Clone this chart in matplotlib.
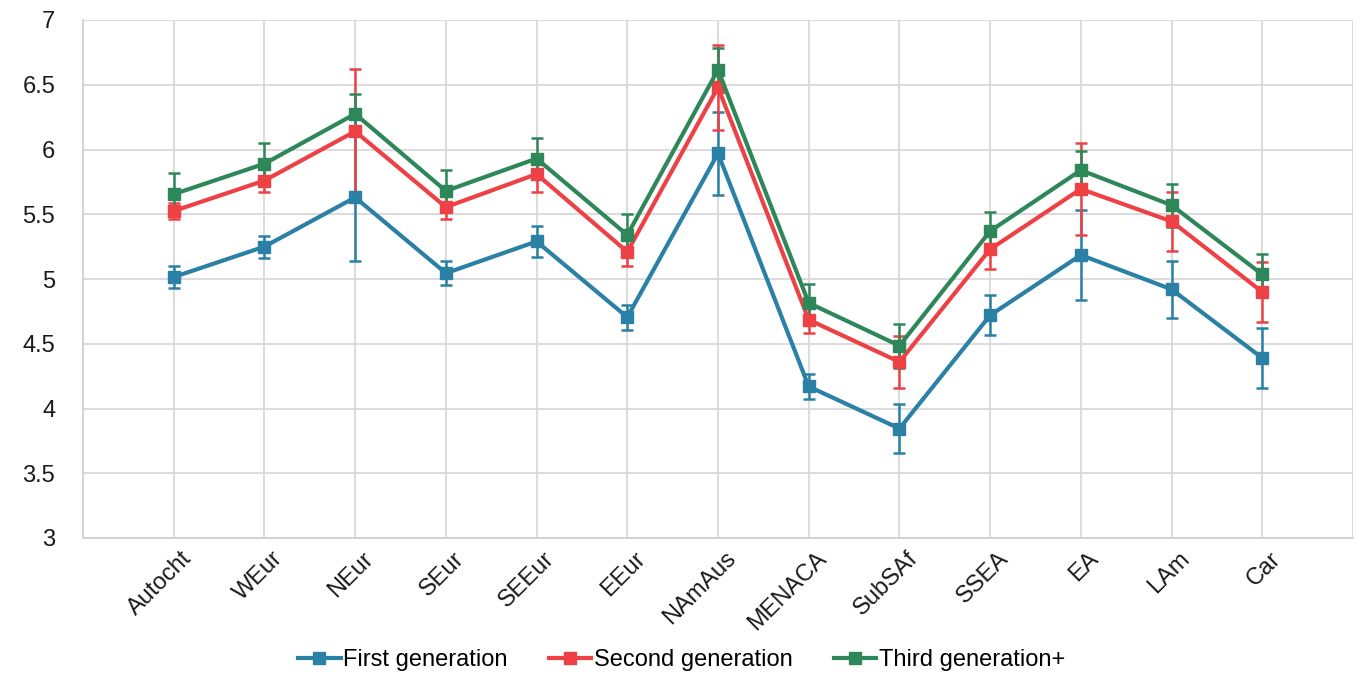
import matplotlib
matplotlib.use("Agg")
import matplotlib.pyplot as plt
import matplotlib.transforms as mtransforms
from matplotlib.lines import Line2D
import numpy as np

plt.rcParams['font.family'] = ['Liberation Sans', 'DejaVu Sans']

categories = ["Autocht", "WEur", "NEur", "SEur", "SEEur", "EEur", "NAmAus",
              "MENACA", "SubSAf", "SSEA", "EA", "LAm", "Car"]

first_gen = [5.015, 5.25, 5.63, 5.045, 5.29, 4.705, 5.97, 4.17, 3.845, 4.72, 5.185, 4.92, 4.39]
first_err = [0.085, 0.085, 0.49, 0.095, 0.12, 0.095, 0.32, 0.095, 0.19, 0.155, 0.35, 0.22, 0.23]

second_gen = [5.525, 5.76, 6.14, 5.555, 5.81, 5.21, 6.48, 4.685, 4.36, 5.23, 5.695, 5.445, 4.90]
second_err = [0.065, 0.09, 0.48, 0.09, 0.135, 0.11, 0.33, 0.10, 0.20, 0.155, 0.355, 0.225, 0.23]

third_gen = [5.655, 5.89, 6.275, 5.68, 5.93, 5.34, 6.615, 4.815, 4.485, 5.37, 5.84, 5.57, 5.035]
third_err = [0.165, 0.16, 0.15, 0.16, 0.16, 0.16, 0.17, 0.15, 0.17, 0.15, 0.145, 0.165, 0.16]

series_names = ["First generation", "Second generation", "Third generation+"]
colors = ["#2b80a6", "#ee4146", "#2e8759"]

fig = plt.figure(figsize=(13.63, 6.74), dpi=100)
ax = fig.add_axes([83/1363, 1-538/674, (1353-83)/1363, (538-20)/674])

x = np.arange(1, len(categories) + 1)
handles = []
for vals, errs, name, c in zip([first_gen, second_gen, third_gen],
                               [first_err, second_err, third_err],
                               series_names, colors):
    ax.errorbar(x, vals, yerr=errs, color=c, lw=3, marker='s', markersize=8,
                elinewidth=1.8, capsize=4, capthick=1.8, zorder=3)
    handles.append(Line2D([], [], color=c, lw=3, marker='s', markersize=8, label=name))

ax.set_xlim(0, 14)
ax.set_ylim(3, 7)
ax.set_yticks(np.arange(3, 7.01, 0.5))
ax.set_yticklabels(["3", "3.5", "4", "4.5", "5", "5.5", "6", "6.5", "7"])
ax.set_xticks(x)
ax.set_xticklabels(categories, rotation=45, ha='right', va='top', rotation_mode='anchor')
ax.tick_params(axis='both', labelsize=17, length=0, colors='#1a1a1a')
ax.tick_params(axis='x', pad=7)
ax.tick_params(axis='y', pad=20)
offset = mtransforms.ScaledTranslation(7/100, 0, fig.dpi_scale_trans)
for lab in ax.get_xticklabels():
    lab.set_transform(lab.get_transform() + offset)

# grid
for v in np.arange(3, 7.01, 0.5):
    ax.axhline(v, color='#d9d9d9', lw=1.3, zorder=1)
for xv in range(1, 15):
    ax.axvline(xv, color='#d9d9d9', lw=1.3, zorder=1)
for s in ['top', 'right']:
    ax.spines[s].set_visible(False)
ax.spines['left'].set_color('#d0d0d0')
ax.spines['bottom'].set_color('#d0d0d0')
ax.spines['left'].set_linewidth(1.3)
ax.spines['bottom'].set_linewidth(1.3)

fig.legend(handles=handles, loc='center', bbox_to_anchor=(0.5, 1-660/674), ncol=3,
           frameon=False, fontsize=17, handlelength=1.8, handletextpad=0.1,
           columnspacing=1.75)

fig.savefig("out.png", dpi=100)
